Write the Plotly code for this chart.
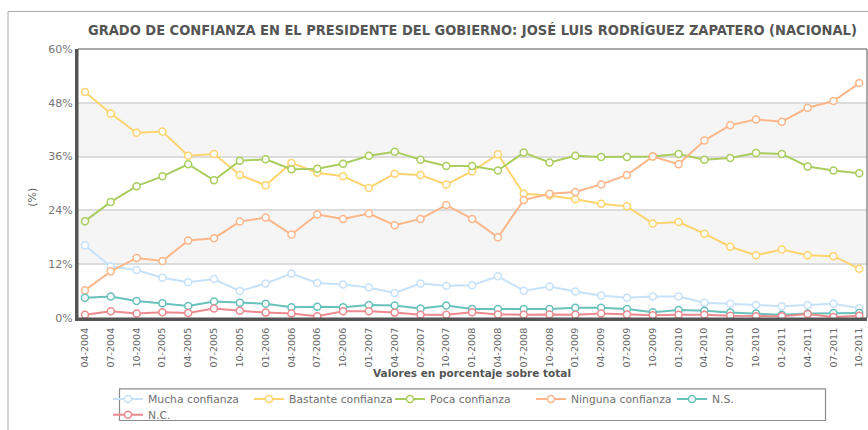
import plotly.graph_objects as go

# Quarterly survey waves
periods = ["04-2004", "07-2004", "10-2004", "01-2005", "04-2005", "07-2005", "10-2005",
           "01-2006", "04-2006", "07-2006", "10-2006", "01-2007", "04-2007", "07-2007",
           "10-2007", "01-2008", "04-2008", "07-2008", "10-2008", "01-2009", "04-2009",
           "07-2009", "10-2009", "01-2010", "04-2010", "07-2010", "10-2010", "01-2011",
           "04-2011", "07-2011", "10-2011"]

mucha = [16.2, 11.5, 10.7, 9.0, 8.0, 8.7, 6.0, 7.7, 9.9, 7.8, 7.5, 6.8, 5.6, 7.7, 7.2, 7.3,
         9.3, 6.1, 7.0, 5.9, 5.0, 4.5, 4.8, 4.8, 3.4, 3.2, 2.9, 2.6, 2.9, 3.2, 2.2]
bastante = [50.4, 45.6, 41.3, 41.6, 36.2, 36.6, 31.9, 29.6, 34.6, 32.4, 31.6, 29.0, 32.2, 31.9,
            29.8, 32.7, 36.5, 27.7, 27.3, 26.5, 25.5, 24.9, 21.1, 21.4, 18.8, 15.9, 14.0, 15.3,
            14.0, 13.8, 11.0]
poca = [21.6, 25.9, 29.4, 31.6, 34.3, 30.7, 35.1, 35.4, 33.2, 33.3, 34.4, 36.2, 37.1, 35.3,
        33.9, 33.9, 32.9, 36.9, 34.7, 36.2, 35.9, 35.9, 36.0, 36.6, 35.3, 35.7, 36.8, 36.6,
        33.8, 32.9, 32.3]
ninguna = [6.2, 10.4, 13.4, 12.7, 17.3, 17.8, 21.5, 22.4, 18.6, 23.1, 22.1, 23.3, 20.7, 22.1,
           25.2, 22.1, 18.0, 26.3, 27.7, 28.1, 29.8, 31.9, 36.0, 34.3, 39.6, 43.0, 44.3, 43.8,
           46.9, 48.4, 52.4]
ns = [4.5, 4.8, 3.8, 3.3, 2.7, 3.7, 3.4, 3.2, 2.4, 2.5, 2.4, 2.9, 2.8, 2.1, 2.8, 2.0, 2.0,
      2.0, 2.0, 2.3, 2.3, 2.0, 1.3, 1.8, 1.6, 1.2, 1.0, 0.7, 1.0, 1.1, 1.1]
nc = [0.7, 1.5, 1.0, 1.3, 1.1, 2.1, 1.6, 1.2, 1.0, 0.4, 1.5, 1.5, 1.2, 0.7, 0.7, 1.3, 0.8,
      0.7, 0.8, 0.7, 1.0, 0.8, 0.6, 0.7, 0.7, 0.5, 0.4, 0.4, 0.9, 0.2, 0.5]

series_names = ["Mucha confianza", "Bastante confianza", "Poca confianza",
                "Ninguna confianza", "N.S.", "N.C."]
series_values = [mucha, bastante, poca, ninguna, ns, nc]
series_colors = ["#c6e1f8", "#fdd46f", "#a9cd5e", "#fdb68a", "#68c1bb", "#ec8a8f"]
series_legend = ["legend", "legend", "legend", "legend", "legend", "legend2"]

y_ticks = [0, 12, 24, 36, 48, 60]

W, H = 868, 430
L, R, T, B = 78, 1, 49, 108


def px(x):
    return (x - L) / (W - L - R)


def py(y):
    return (H - B - y) / (H - T - B)


fig = go.Figure()
for name, vals, col, leg in zip(series_names, series_values, series_colors, series_legend):
    fig.add_trace(go.Scatter(
        x=periods, y=vals, name=name, mode="lines+markers", legend=leg,
        line=dict(color=col, width=2),
        marker=dict(symbol="circle", size=7, color="white", line=dict(color=col, width=1.5)),
    ))

text_font = "DejaVu Sans, Verdana, sans-serif"

shapes = [
    # shaded bands
    dict(type="rect", xref="paper", yref="y", x0=0, x1=1, y0=12, y1=24,
         fillcolor="#f5f5f5", line=dict(width=0), layer="below"),
    dict(type="rect", xref="paper", yref="y", x0=0, x1=1, y0=36, y1=48,
         fillcolor="#f5f5f5", line=dict(width=0), layer="below"),
    # plot frame
    dict(type="rect", xref="paper", yref="paper", x0=0, x1=1, y0=0, y1=1,
         line=dict(color="#555555", width=1), layer="above"),
    # outer frame
    dict(type="rect", xref="paper", yref="paper", x0=px(8), x1=px(890), y0=py(450), y1=py(11),
         line=dict(color="#aaaaaa", width=1), layer="below"),
    # legend box
    dict(type="rect", xref="paper", yref="paper", x0=px(119.5), x1=px(825.5),
         y0=py(426), y1=py(394), line=dict(color="#8c8c8c", width=1.2), layer="below"),
]

annotations = [
    dict(text="GRADO DE CONFIANZA EN EL PRESIDENTE DEL GOBIERNO: JOSÉ LUIS RODRÍGUEZ ZAPATERO (NACIONAL)",
         xref="paper", yref="paper", x=px(472), y=py(30), xanchor="center", yanchor="middle",
         showarrow=False,
         font=dict(family="DejaVu Sans Condensed, DejaVu Sans, sans-serif", size=14.5,
                   color="#555555", weight="bold")),
    dict(text="(%)", xref="paper", yref="paper", x=px(33), y=py(200), textangle=-90,
         xanchor="center", yanchor="middle", showarrow=False,
         font=dict(family=text_font, size=11, color="#666666")),
    dict(text="Valores en porcentaje sobre total", xref="paper", yref="paper",
         x=px(472), y=py(378), xanchor="center", yanchor="middle", showarrow=False,
         font=dict(family=text_font, size=10.5, color="#555555", weight="bold")),
]

legend_common = dict(orientation="h", xanchor="left", yanchor="top", bgcolor="rgba(0,0,0,0)",
                     borderwidth=0, entrywidthmode="pixels", entrywidth=96,
                     font=dict(family=text_font, size=10.8, color="#707070"))

fig.update_layout(
    width=W, height=H,
    margin=dict(l=L, r=R, t=T, b=B),
    paper_bgcolor="white", plot_bgcolor="white",
    showlegend=True,
    legend=dict(x=px(108), y=py(389.5), **legend_common),
    legend2=dict(x=px(108), y=py(405.5), **legend_common),
    shapes=shapes,
    annotations=annotations,
    xaxis=dict(
        type="category", range=[-0.27, 30.3], showgrid=False, zeroline=False,
        showline=True, linecolor="#555555", linewidth=3, ticks="",
        tickangle=-90, ticklabelstandoff=3,
        tickfont=dict(family=text_font, size=9.5, color="#666666"),
    ),
    yaxis=dict(
        range=[0, 60], tickvals=y_ticks, ticktext=[f"{v}%" for v in y_ticks],
        showgrid=True, gridcolor="#dcdcdc", gridwidth=2, zeroline=False,
        showline=True, linecolor="#555555", linewidth=3, ticks="",
        tickfont=dict(family=text_font, size=11, color="#777777"),
    ),
)

fig.write_html("out.html")
